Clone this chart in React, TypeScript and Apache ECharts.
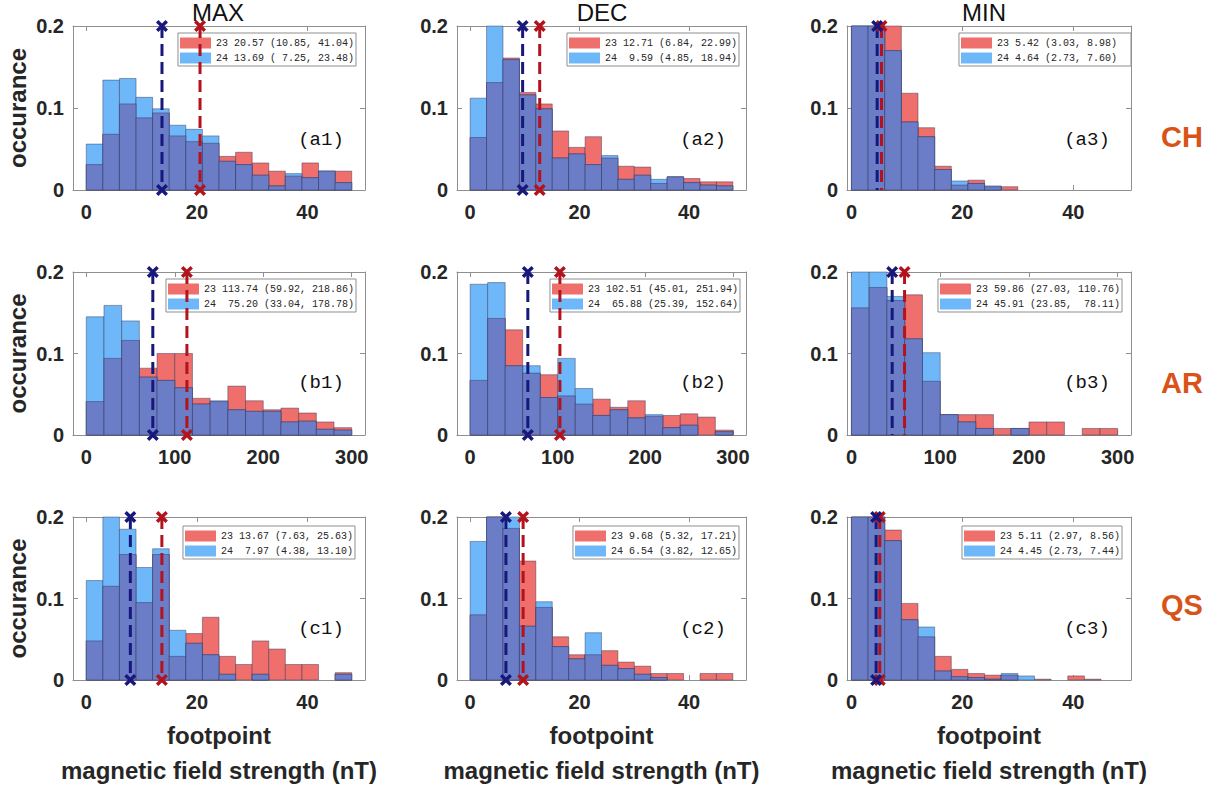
import React, { useEffect, useRef } from "react";
import * as echarts from "echarts";

// ---------------- data ----------------
const COL_TITLES = ["MAX", "DEC", "MIN"];
const ROW_TITLES = ["CH", "AR", "QS"];
const PANEL_LABELS = ["(a1)", "(a2)", "(a3)", "(b1)", "(b2)", "(b3)", "(c1)", "(c2)", "(c3)"];
const X_TICKS_SMALL = [0, 20, 40];
const X_TICKS_AR = [0, 100, 200, 300];
const Y_TICKS = [0, 0.1, 0.2];
const BIN_WIDTH_ROW = [3, 20, 3];

// occurrence per bin, cycle 23 (red) and cycle 24 (blue)
const A1_23 = [0.031, 0.068, 0.105, 0.088, 0.094, 0.066, 0.059, 0.057, 0.041, 0.046, 0.033, 0.023, 0.017, 0.033, 0.023, 0.023];
const A1_24 = [0.056, 0.134, 0.136, 0.113, 0.099, 0.079, 0.074, 0.066, 0.035, 0.031, 0.018, 0.005, 0.020, 0.015, 0.023, 0.009];
const A2_23 = [0.064, 0.131, 0.161, 0.119, 0.105, 0.072, 0.052, 0.065, 0.039, 0.029, 0.028, 0.008, 0.016, 0.014, 0.010, 0.010];
const A2_24 = [0.112, 0.230, 0.159, 0.116, 0.099, 0.039, 0.044, 0.031, 0.042, 0.013, 0.018, 0.013, 0.016, 0.009, 0.006, 0.005];
const A3_23 = [0.26, 0.24, 0.205, 0.118, 0.076, 0.029, 0.006, 0.012, 0.004, 0.004, 0, 0, 0, 0, 0, 0];
const A3_24 = [0.28, 0.26, 0.170, 0.083, 0.065, 0.025, 0.011, 0.008, 0.005, 0, 0, 0, 0, 0, 0, 0];
const B1_23 = [0.041, 0.094, 0.116, 0.082, 0.100, 0.100, 0.045, 0.041, 0.060, 0.042, 0.031, 0.033, 0.027, 0.016, 0.009];
const B1_24 = [0.145, 0.159, 0.140, 0.071, 0.067, 0.058, 0.038, 0.042, 0.031, 0.029, 0.029, 0.016, 0.017, 0.007, 0.006];
const B2_23 = [0.067, 0.143, 0.129, 0.076, 0.074, 0.048, 0.038, 0.044, 0.034, 0.042, 0.023, 0.024, 0.026, 0.022, 0.006];
const B2_24 = [0.185, 0.187, 0.085, 0.085, 0.046, 0.094, 0.057, 0.024, 0.031, 0.021, 0.025, 0.009, 0.012, 0, 0.004];
const B3_23 = [0.156, 0.181, 0.165, 0.172, 0.066, 0.025, 0.025, 0.025, 0.008, 0.008, 0.016, 0.016, 0, 0.008, 0.008];
const B3_24 = [0.23, 0.25, 0.170, 0.118, 0.101, 0.025, 0.016, 0.008, 0, 0.008, 0, 0, 0, 0, 0];
const C1_23 = [0.048, 0.115, 0.154, 0.095, 0.154, 0.029, 0.057, 0.077, 0.029, 0.019, 0.048, 0.038, 0.019, 0.019, 0, 0.009];
const C1_24 = [0.122, 0.23, 0.185, 0.138, 0.161, 0.061, 0.045, 0.031, 0.007, 0, 0.007, 0, 0, 0, 0, 0.007];
const C2_23 = [0.080, 0.24, 0.186, 0.146, 0.089, 0.053, 0.031, 0.031, 0.036, 0.022, 0.017, 0.008, 0.008, 0, 0.008, 0.008];
const C2_24 = [0.170, 0.25, 0.21, 0.066, 0.096, 0.041, 0.026, 0.058, 0.018, 0.014, 0.007, 0.003, 0, 0, 0, 0];
const C3_23 = [0.27, 0.25, 0.184, 0.094, 0.053, 0.029, 0.013, 0.008, 0.006, 0.006, 0, 0.001, 0, 0.005, 0.001, 0];
const C3_24 = [0.29, 0.26, 0.171, 0.074, 0.065, 0.011, 0.004, 0.003, 0.001, 0.008, 0.005, 0, 0, 0, 0, 0];

const MED_23 = [20.57, 12.71, 5.42, 113.74, 102.51, 59.86, 13.67, 9.68, 5.11];
const LO_23 = [10.85, 6.84, 3.03, 59.92, 45.01, 27.03, 7.63, 5.32, 2.97];
const HI_23 = [41.04, 22.99, 8.98, 218.86, 251.94, 110.76, 25.63, 17.21, 8.56];
const MED_24 = [13.69, 9.59, 4.64, 75.2, 65.88, 45.91, 7.97, 6.54, 4.45];
const LO_24 = [7.25, 4.85, 2.73, 33.04, 25.39, 23.85, 4.38, 3.82, 2.73];
const HI_24 = [23.48, 18.94, 7.6, 178.78, 152.64, 78.11, 13.1, 12.65, 7.44];

const H23 = [A1_23, A2_23, A3_23, B1_23, B2_23, B3_23, C1_23, C2_23, C3_23];
const H24 = [A1_24, A2_24, A3_24, B1_24, B2_24, B3_24, C1_24, C2_24, C3_24];

// ---------------- layout ----------------
const W = 1227;
const H = 788;
const GRID_LEFT = [73, 457, 847];
const GRID_WIDTH = [292, 289, 284];
const GRID_TOP = [26, 272, 517];
const GRID_HEIGHT = [164, 163, 163];
const XMIN = [-2.4, -2.4, -0.8, -15, -15, -5, -2.4, -2.4, -0.8];
const XMAX = [50.4, 50.4, 50.4, 315, 315, 315, 50.4, 50.4, 50.4];
const LEG_RIGHT = [356, 739, 1131, 356, 740, 1122, 355, 739, 1122];
const LEG_TOP = [33, 33, 33, 279, 279, 279, 526, 526, 526];
const LEG_PAD_RIGHT = [2, 2, 14, 2, 2, 2, 2, 2, 2];
const BOTTOM_MARK = [true, true, false, true, true, false, true, true, true];
const PANEL_LABEL_X = [321, 703, 1087];
const PANEL_LABEL_Y = [140, 383, 629];
const TITLE_X = [218, 602, 984];
const ROW_LABEL_Y = [137, 383, 605];

const FONT = "'Liberation Sans', Arial, sans-serif";
const MONO = "'Liberation Mono', 'DejaVu Sans Mono', monospace";
const TXT = "#262626";
const FRAME = "#8f8f8f";
const RED = "#EE6F6B";
const BLUE = "#6EB8F9";
const OVER = "#6B7DC6";
const EDGE = "rgba(45,45,85,0.55)";
const NAVY = "#18187C";
const DARKRED = "#B3131D";
const ORANGE = "#D95319";
const CROSS = "path://M2,0 L5,3 L8,0 L10,2 L7,5 L10,8 L8,10 L5,7 L2,10 L0,8 L3,5 L0,2 Z";

function pad2(a: number, b: number): [string, string] {
  const s1 = a.toFixed(2);
  const s2 = b.toFixed(2);
  const w = Math.max(s1.length, s2.length);
  return [s1.padStart(w, " "), s2.padStart(w, " ")];
}

function makeRender(fill: string) {
  return (params: any, api: any) => {
    const x0 = api.value(0);
    const x1 = api.value(1);
    const h = api.value(2);
    if (!(h > 0)) return null;
    const a = api.coord([x0, h]);
    const b = api.coord([x1, 0]);
    const cs = params.coordSys;
    const shape = echarts.graphic.clipRectByRect(
      { x: a[0], y: a[1], width: b[0] - a[0], height: b[1] - a[1] },
      { x: cs.x, y: cs.y, width: cs.width, height: cs.height }
    );
    if (!shape) return null;
    return { type: "rect", shape, style: { fill, stroke: EDGE, lineWidth: 0.8 } };
  };
}

function buildOption() {
  const grid: any[] = [];
  const xAxis: any[] = [];
  const yAxis: any[] = [];
  const series: any[] = [];
  const legend: any[] = [];
  const graphic: any[] = [];

  for (let i = 0; i < 9; i++) {
    const row = Math.floor(i / 3);
    const col = i % 3;
    grid.push({ left: GRID_LEFT[col], top: GRID_TOP[row], width: GRID_WIDTH[col], height: GRID_HEIGHT[row], containLabel: false });
    const ticks = row === 1 ? X_TICKS_AR : X_TICKS_SMALL;
    const axisLine = { show: true, onZero: false, lineStyle: { color: FRAME, width: 1 } };
    const labelStyle = { fontSize: 20, fontWeight: "bold", fontFamily: FONT, color: TXT };
    xAxis.push({
      type: "value", gridIndex: i, position: "bottom", min: XMIN[i], max: XMAX[i],
      axisLine, splitLine: { show: false },
      axisTick: { show: true, inside: true, length: 5, customValues: ticks, lineStyle: { color: FRAME } },
      axisLabel: { show: true, customValues: ticks, margin: 12, ...labelStyle },
    });
    xAxis.push({
      type: "value", gridIndex: i, position: "top", min: XMIN[i], max: XMAX[i],
      axisLine, splitLine: { show: false },
      axisTick: { show: true, inside: true, length: 5, customValues: ticks, lineStyle: { color: FRAME } },
      axisLabel: { show: false },
    });
    yAxis.push({
      type: "value", gridIndex: i, position: "left", min: 0, max: 0.2, interval: 0.1,
      axisLine, splitLine: { show: false },
      axisTick: { show: true, inside: true, length: 5, lineStyle: { color: FRAME } },
      axisLabel: { show: true, margin: 9, customValues: Y_TICKS, formatter: (v: number) => (v === 0 ? "0" : v.toFixed(1)), ...labelStyle },
    });
    yAxis.push({
      type: "value", gridIndex: i, position: "right", min: 0, max: 0.2, interval: 0.1,
      axisLine, splitLine: { show: false },
      axisTick: { show: true, inside: true, length: 5, lineStyle: { color: FRAME } },
      axisLabel: { show: false },
    });

    const w = BIN_WIDTH_ROW[row];
    const d23 = H23[i].map((v, k) => [k * w, (k + 1) * w, v]);
    const d24 = H24[i].map((v, k) => [k * w, (k + 1) * w, v]);
    const dOv = H23[i].map((v, k) => [k * w, (k + 1) * w, Math.min(v, H24[i][k])]);

    const [m23, m24] = pad2(MED_23[i], MED_24[i]);
    const [l23, l24] = pad2(LO_23[i], LO_24[i]);
    const [h23, h24] = pad2(HI_23[i], HI_24[i]);
    const name23 = `23 ${m23} (${l23}, ${h23})`;
    const name24 = `24 ${m24} (${l24}, ${h24})`;

    const common = { xAxisIndex: 2 * i, yAxisIndex: 2 * i, silent: true };
    series.push({ type: "custom", name: name23, ...common, itemStyle: { color: RED }, renderItem: makeRender(RED), data: d23, z: 2 });
    series.push({ type: "custom", name: name24, ...common, itemStyle: { color: BLUE }, renderItem: makeRender(BLUE), data: d24, z: 2 });
    series.push({ type: "custom", name: `overlap-${i}`, ...common, itemStyle: { color: OVER }, renderItem: makeRender(OVER), data: dOv, z: 2 });

    const medLine = (m: number, color: string, nm: string) => ({
      type: "line", name: nm, ...common, clip: false, z: 5,
      data: [
        { value: [m, 0.2] },
        BOTTOM_MARK[i] ? { value: [m, 0] } : { value: [m, 0], symbol: "none" },
      ],
      symbol: CROSS, symbolSize: 12,
      itemStyle: { color },
      lineStyle: { color, width: 3, type: [12, 6] },
    });
    series.push(medLine(MED_23[i], DARKRED, `med23-${i}`));
    series.push(medLine(MED_24[i], NAVY, `med24-${i}`));

    legend.push({
      show: true, selectedMode: false, orient: "vertical",
      right: W - LEG_RIGHT[i], top: LEG_TOP[i],
      data: [name23, name24],
      icon: "rect", itemWidth: 31, itemHeight: 11, itemGap: 3,
      padding: [4, LEG_PAD_RIGHT[i], 2, 2],
      backgroundColor: "#ffffff", borderColor: FRAME, borderWidth: 1, borderRadius: 0,
      textStyle: { fontFamily: MONO, fontSize: 10, color: TXT, lineHeight: 12 },
    });

    graphic.push({
      type: "text", x: PANEL_LABEL_X[col], y: PANEL_LABEL_Y[row], z: 10,
      style: { text: PANEL_LABELS[i], fill: "#111", fontSize: 19, fontFamily: MONO, align: "center", verticalAlign: "middle" },
    });
  }

  for (let c = 0; c < 3; c++) {
    graphic.push({
      type: "text", x: TITLE_X[c], y: 12,
      style: { text: COL_TITLES[c], fill: "#111", fontSize: 24, fontFamily: FONT, align: "center", verticalAlign: "middle" },
    });
    const cx = GRID_LEFT[c] + GRID_WIDTH[c] / 2;
    graphic.push({
      type: "text", x: cx, y: 735,
      style: { text: "footpoint", fill: TXT, fontSize: 24, fontWeight: "bold", fontFamily: FONT, align: "center", verticalAlign: "middle" },
    });
    graphic.push({
      type: "text", x: cx, y: 770,
      style: { text: "magnetic field strength (nT)", fill: TXT, fontSize: 24, fontWeight: "bold", fontFamily: FONT, align: "center", verticalAlign: "middle" },
    });
  }
  for (let r = 0; r < 3; r++) {
    graphic.push({
      type: "text", x: 17, y: GRID_TOP[r] + GRID_HEIGHT[r] / 2, rotation: Math.PI / 2,
      style: { text: "occurance", fill: TXT, fontSize: 24, fontWeight: "bold", fontFamily: FONT, align: "center", verticalAlign: "middle" },
    });
    graphic.push({
      type: "text", x: 1182, y: ROW_LABEL_Y[r],
      style: { text: ROW_TITLES[r], fill: ORANGE, fontSize: 29, fontWeight: "bold", fontFamily: FONT, align: "center", verticalAlign: "middle" },
    });
  }

  return { animation: false, backgroundColor: "#ffffff", grid, xAxis, yAxis, series, legend, graphic };
}

export default function App() {
  const ref = useRef<HTMLDivElement>(null);
  useEffect(() => {
    document.body.style.margin = "0";
    if (!ref.current) return;
    const chart = echarts.init(ref.current, null, { renderer: "svg" });
    chart.setOption(buildOption());
    return () => chart.dispose();
  }, []);
  return <div ref={ref} style={{ width: W, height: H }} />;
}
